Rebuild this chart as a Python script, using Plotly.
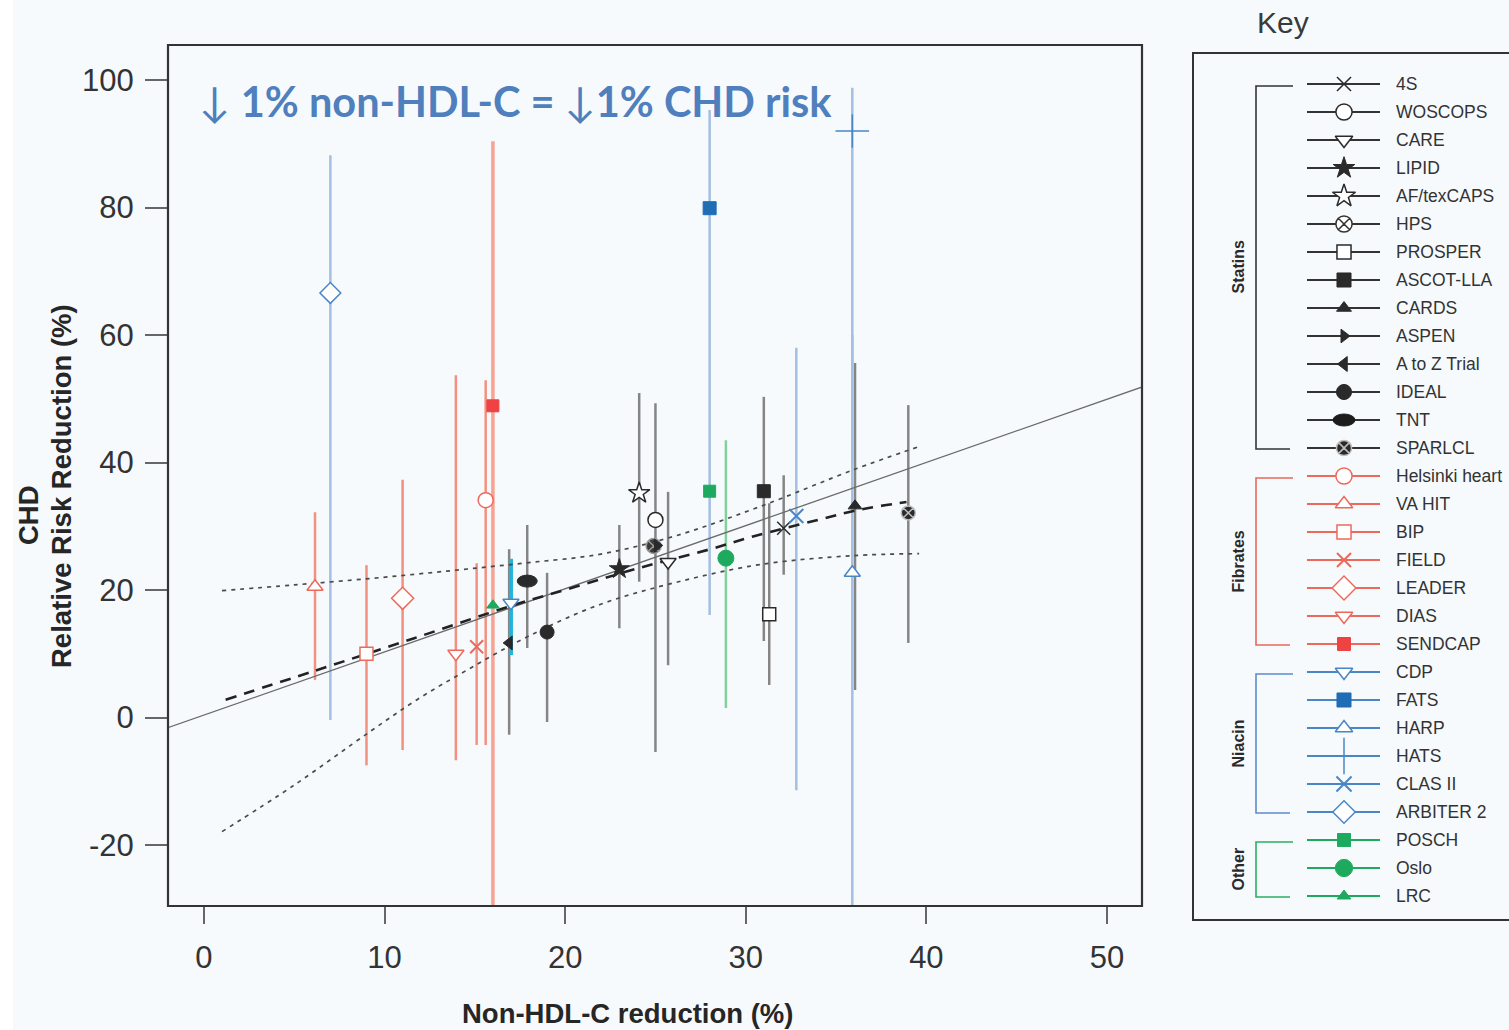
import plotly.graph_objects as go

W, H = 1509, 1030

# ---------------- trial data ----------------
studies = ["4S", "WOSCOPS", "CARE", "LIPID", "AF/texCAPS", "HPS", "PROSPER",
           "ASCOT-LLA", "CARDS", "ASPEN", "A to Z Trial", "IDEAL", "TNT", "SPARLCL",
           "Helsinki heart", "VA HIT", "BIP", "FIELD", "LEADER", "DIAS", "SENDCAP",
           "CDP", "FATS", "HARP", "HATS", "CLAS II", "ARBITER 2",
           "POSCH", "Oslo", "LRC"]
drug_class = (["Statins"] * 14 + ["Fibrates"] * 7 + ["Niacin"] * 6 + ["Other"] * 3)

nonhdl_reduction = [32.1, 25.0, 25.7, 23.0, 24.1, 24.9, 31.3,
                    31.0, 36.05, 25.1, 16.9, 19.0, 17.9, 39.0,
                    15.6, 6.15, 9.0, 15.1, 11.0, 13.95, 16.0,
                    17.0, 28.0, 35.9, 35.9, 32.8, 7.0,
                    28.0, 28.9, 16.0]
rrr = [29.7, 31.0, 24.4, 23.3, 35.2, 26.9, 16.2,
       35.5, 33.2, 27.0, 11.7, 13.4, 21.4, 32.1,
       34.1, 20.5, 10.0, 11.1, 18.7, 10.0, 48.9,
       18.0, 79.9, 22.7, 92.0, 31.6, 66.6,
       35.5, 25.0, 17.6]
ci_low = [22.4, -5.4, 8.2, 14.0, 21.3, None, 5.1,
          12.0, 4.3, None, -2.7, -0.7, 10.9, 11.7,
          -4.3, 5.9, -7.5, -4.3, -5.1, -6.7, -35.0,
          9.8, 16.1, -35.0, 40.0, -11.4, -0.4,
          None, 1.5, None]
ci_high = [38.0, 49.3, 35.4, 30.2, 50.9, None, 33.6,
           50.3, 55.6, None, 26.4, 22.7, 30.2, 49.0,
           52.9, 32.2, 23.9, 24.2, 37.3, 53.7, 90.4,
           24.9, 95.3, 60.0, 98.8, 58.0, 88.2,
           None, 43.5, None]

# regression line, weighted trend and its confidence band
fit_x = [-2.0, 52.0]
fit_y = [-1.6, 51.9]
trend_x = [1.2, 6.0, 11.6, 17.0, 20.8, 24.4, 27.9, 30.4, 34.0, 36.3, 38.9]
trend_y = [2.8, 7.2, 12.4, 17.5, 20.7, 23.7, 26.3, 28.4, 31.0, 32.6, 33.8]
band_x = [1.0, 5.0, 9.2, 11.8, 14.6, 18.0, 21.9, 26.0, 30.8, 36.0, 39.6]
band_upper = [19.9, 20.8, 21.8, 22.5, 23.3, 24.3, 25.6, 28.4, 33.1, 38.9, 42.5]
band_lower = [-17.9, -10.6, -2.2, 2.8, 7.5, 12.8, 17.7, 21.1, 24.0, 25.4, 25.7]

x_ticks = [0, 10, 20, 30, 40, 50]
y_ticks = [-20, 0, 20, 40, 60, 80, 100]
y_tick_text = ["-20", "0", "20", "40", "60", "80", "100"]

# ---------------- styles ----------------
CLASS_COL = {"Statins": "#2a2a2a", "Fibrates": "#ec6a5c", "Niacin": "#4a86c6", "Other": "#1eaa5e"}
CLASS_CI = {"Statins": "#858585", "Fibrates": "#f2917f", "Niacin": "#a5bfe0", "Other": "#86cf9c"}
WHITE = "#ffffff"

# symbol, size, fill (None -> class colour), outline colour (None -> class colour), outline width
MARK = {
    "4S": ("x-thin-open", 13, None, None, 1.5),
    "WOSCOPS": ("circle", 15, WHITE, None, 1.5),
    "CARE": ("triangle-down", 14, WHITE, None, 1.5),
    "LIPID": ("star", 15, None, None, 1),
    "AF/texCAPS": ("star", 16, WHITE, None, 1.5),
    "HPS": ("circle-x", 15, "#3a3a3a", "#9a9a9a", 1.5),
    "PROSPER": ("square", 13, WHITE, None, 1.5),
    "ASCOT-LLA": ("square", 13, None, None, 1),
    "CARDS": ("triangle-up", 12, None, None, 1),
    "ASPEN": ("triangle-right", 11, None, None, 1),
    "A to Z Trial": ("triangle-left", 12, None, None, 1),
    "IDEAL": ("circle", 14, None, None, 1),
    "TNT": ("circle", 1, None, None, 0),
    "SPARLCL": ("circle-x", 14, None, "#bdbdbd", 1.5),
    "Helsinki heart": ("circle", 15, WHITE, None, 1.5),
    "VA HIT": ("triangle-up", 14, WHITE, None, 1.5),
    "BIP": ("square", 13, WHITE, None, 1.5),
    "FIELD": ("x-thin-open", 13, None, None, 2),
    "LEADER": ("diamond", 17, WHITE, None, 1.5),
    "DIAS": ("triangle-down", 14, WHITE, None, 1.5),
    "SENDCAP": ("square", 12, "#ef4242", "#ef4242", 1),
    "CDP": ("triangle-down", 14, WHITE, None, 1.5),
    "FATS": ("square", 13, "#1f6db5", "#1f6db5", 1),
    "HARP": ("triangle-up", 14, WHITE, None, 1.5),
    "HATS": ("cross-thin-open", 24, None, None, 1.5),
    "CLAS II": ("x-thin-open", 14, None, None, 2),
    "ARBITER 2": ("diamond", 16, WHITE, None, 1.5),
    "POSCH": ("square", 12, None, None, 1),
    "Oslo": ("circle", 16, None, None, 1),
    "LRC": ("triangle-up", 11, None, None, 1),
}
CI_OVERRIDE = {"SENDCAP": ("#f6a393", 3.5), "CDP": ("#22b4dc", 4)}
LEGEND_FILL = {"HPS": (WHITE, "#333333")}

fig = go.Figure()

# ---------------- confidence intervals ----------------
for name, cls, xv, lo, hi in zip(studies, drug_class, nonhdl_reduction, ci_low, ci_high):
    if lo is None:
        continue
    col, wd = CI_OVERRIDE.get(name, (CLASS_CI[cls], 2.5))
    fig.add_trace(go.Scatter(x=[xv, xv], y=[lo, hi], mode="lines",
                             line=dict(color=col, width=wd),
                             showlegend=False, hoverinfo="skip"))

# ---------------- regression / trend curves ----------------
fig.add_trace(go.Scatter(x=fit_x, y=fit_y, mode="lines",
                         line=dict(color="#6a6a6a", width=1.3), showlegend=False))
fig.add_trace(go.Scatter(x=band_x, y=band_upper, mode="lines", line_shape="spline",
                         line=dict(color="#4a4a4a", width=1.7, dash="4px,5px"), showlegend=False))
fig.add_trace(go.Scatter(x=band_x, y=band_lower, mode="lines", line_shape="spline",
                         line=dict(color="#4a4a4a", width=1.7, dash="4px,5px"), showlegend=False))
fig.add_trace(go.Scatter(x=trend_x, y=trend_y, mode="lines", line_shape="spline",
                         line=dict(color="#222222", width=2.6, dash="11px,8px"), showlegend=False))


def marker_style(name, cls, legend=False):
    sym, size, fill, edge, lw = MARK[name]
    col = CLASS_COL[cls]
    if legend and name in LEGEND_FILL:
        fill, edge = LEGEND_FILL[name]
    return dict(symbol=sym, size=size * (1.08 if legend else 1.0),
                color=fill if fill is not None else col,
                line=dict(color=edge if edge is not None else col, width=lw))


# ---------------- trial markers ----------------
for name, cls, xv, yv in zip(studies, drug_class, nonhdl_reduction, rrr):
    fig.add_trace(go.Scatter(x=[xv], y=[yv], mode="markers", name=name,
                             marker=marker_style(name, cls), showlegend=False,
                             hovertemplate=name + ": %{x}%, %{y}%<extra></extra>"))
    if name == "TNT":
        fig.add_shape(type="circle", xref="x", yref="y",
                      xsizemode="pixel", ysizemode="pixel",
                      xanchor=xv, yanchor=yv, x0=-10, x1=10, y0=-6, y1=6,
                      fillcolor=CLASS_COL[cls], line=dict(color=CLASS_COL[cls], width=1),
                      layer="above")

# ---------------- key (drawn on a pixel-space overlay axis) ----------------
ROW0, ROWSTEP = 84, 28
LX0, LX1, LMX, LTX = 1307, 1380, 1344, 1394
rows = {}
for i, (name, cls) in enumerate(zip(studies, drug_class)):
    ry = ROW0 + ROWSTEP * i
    rows.setdefault(cls, []).append(ry)
    col = "#333333" if cls == "Statins" else CLASS_COL[cls]
    fig.add_trace(go.Scatter(x=[LX0, LX1], y=[ry, ry], mode="lines", xaxis="x2", yaxis="y2",
                             line=dict(color=col, width=1.8), showlegend=False, hoverinfo="skip"))
    if name == "TNT":
        fig.add_shape(type="circle", xref="x2", yref="y2", x0=LMX - 11, x1=LMX + 11,
                      y0=ry - 6, y1=ry + 6, fillcolor="#1c1c1c", line=dict(color="#1c1c1c", width=1))
    else:
        ms = marker_style(name, cls, legend=True)
        fig.add_trace(go.Scatter(x=[LMX], y=[ry], mode="markers", xaxis="x2", yaxis="y2",
                                 marker=ms, showlegend=False, hoverinfo="skip", cliponaxis=False))
    fig.add_annotation(x=LTX, y=ry, xref="x2", yref="y2", text=name, showarrow=False,
                       xanchor="left", yanchor="middle",
                       font=dict(family="Liberation Sans, Arial", size=17.5, color="#333333"))

BRACKET_COL = {"Statins": "#333333", "Fibrates": "#e8695a", "Niacin": "#5a8ccc", "Other": "#2bb060"}
for cls, ys in rows.items():
    top, bot = ys[0] + 2, ys[-1] + 1
    fig.add_shape(type="path", xref="x2", yref="y2",
                  path=f"M 1293 {top} L 1256 {top} L 1256 {bot} L 1290 {bot}",
                  line=dict(color=BRACKET_COL[cls], width=1.6))
    fig.add_annotation(x=1238, y=(top + bot) / 2, xref="x2", yref="y2", text=f"<b>{cls}</b>",
                       textangle=-90, showarrow=False, xanchor="center", yanchor="middle",
                       font=dict(family="Liberation Sans, Arial", size=16, color="#2a2a2a"))

# key frame and title
fig.add_shape(type="rect", xref="x2", yref="y2", x0=1193, x1=1515, y0=53, y1=920,
              line=dict(color="#333333", width=2), fillcolor="rgba(0,0,0,0)")
fig.add_annotation(x=1283, y=22, xref="x2", yref="y2", text="Key", showarrow=False,
                   font=dict(family="Liberation Sans, Arial", size=30, color="#3a3a3a"))

# plot frame
fig.add_shape(type="rect", xref="x2", yref="y2", x0=168, x1=1142, y0=45, y1=906,
              line=dict(color="#333333", width=2.2), fillcolor="rgba(0,0,0,0)")
# thin white strip along the left edge of the page
fig.add_shape(type="rect", xref="x2", yref="y2", x0=0, x1=13, y0=0, y1=H,
              line=dict(width=0), fillcolor="#ffffff", layer="below")

# headline
fig.add_annotation(x=197, y=101, xref="x2", yref="y2", xanchor="left", yanchor="middle",
                   showarrow=False,
                   text="↓ <b>1% non-HDL-C = </b>↓<b>1% CHD risk</b>",
                   font=dict(family="Lato, Open Sans", size=41.5, color="#4f7fbd"))

# axis titles
TITLE_FONT = dict(family="Liberation Sans, Arial", size=27.5, color="#262626")
fig.add_annotation(x=28, y=515, xref="x2", yref="y2", text="<b>CHD</b>", textangle=-90,
                   showarrow=False, font=TITLE_FONT)
fig.add_annotation(x=61, y=486, xref="x2", yref="y2", text="<b>Relative Risk Reduction (%)</b>",
                   textangle=-90, showarrow=False, font=TITLE_FONT)
fig.add_annotation(x=627, y=1013, xref="x2", yref="y2", text="<b>Non-HDL-C reduction (%)</b>",
                   showarrow=False, font=TITLE_FONT)

TICK_FONT = dict(family="Liberation Sans, Arial", size=31, color="#333333")
fig.update_layout(
    width=W, height=H, autosize=False,
    margin=dict(l=0, r=0, t=0, b=0),
    paper_bgcolor="#f6fafd", plot_bgcolor="rgba(0,0,0,0)",
    showlegend=False,
    xaxis=dict(domain=[168 / W, 1142 / W], anchor="y", range=[-1.99, 51.94],
               tickvals=x_ticks, ticks="outside", ticklen=17, tickwidth=1.6, tickcolor="#666666",
               showgrid=False, zeroline=False, showline=False, tickfont=TICK_FONT,
               ticklabelstandoff=7, automargin=False),
    yaxis=dict(domain=[1 - 906 / H, 1 - 45 / H], anchor="x", range=[-29.57, 105.5],
               tickvals=y_ticks, ticktext=y_tick_text, ticks="outside", ticklen=22,
               tickwidth=1.6, tickcolor="#666666",
               showgrid=False, zeroline=False, showline=False, tickfont=TICK_FONT,
               ticklabelstandoff=5, automargin=False),
    xaxis2=dict(domain=[0, 1], anchor="y2", range=[0, W], visible=False, fixedrange=True),
    yaxis2=dict(domain=[0, 1], anchor="x2", range=[H, 0], visible=False, fixedrange=True),
)

fig.write_html("out.html")
